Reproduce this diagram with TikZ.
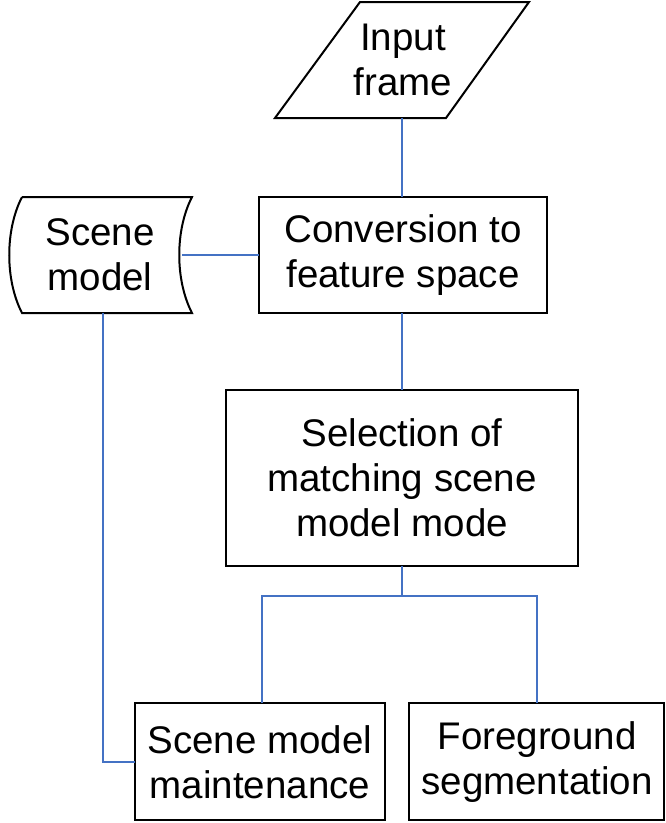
\documentclass[tikz,border=0pt]{standalone}
\usepackage{fontspec}
\setmainfont{Liberation Sans}
\begin{document}
\begin{tikzpicture}[x=1pt,y=-1pt,line width=2pt,
  txt/.style={align=center,font=\fontsize{38.5}{45}\selectfont},
  link/.style={line width=2.2pt,color={rgb,255:red,68;green,114;blue,196}}]
\useasboundingbox (0,0) rectangle (666,823);
% shapes
\draw (360,2) -- (529,2) -- (446,118) -- (275,118) -- cycle;
\draw (259,197) rectangle (547,313);
\draw (22,197) -- (192,197) .. controls (175,230) and (175,280) .. (192,313)
      -- (22,313) .. controls (5,280) and (5,230) .. (22,197);
\draw (226,390) rectangle (578,566);
\draw (135,703) rectangle (385,820);
\draw (409,703) rectangle (664,820);
% texts
\node[txt] (input) at (403,60) {Input\\frame};
\node[txt] (conv) at (403,255) {Conversion to\\feature space};
\node[txt] (scene) at (100,255) {Scene\\model};
\node[txt] (select) at (402,478) {Selection of\\matching scene\\model mode};
\node[txt] (maint) at (260,762) {Scene model\\maintenance};
\node[txt] (fg) at (537,762) {Foreground\\segmentation};
% anchors for connectors
\coordinate (inB) at (402,118);
\coordinate (convT) at (402,197);
\coordinate (convB) at (402,313);
\coordinate (convL) at (259,255);
\coordinate (sceneR) at (182,255);
\coordinate (sceneB) at (103,313);
\coordinate (selT) at (402,390);
\coordinate (selB) at (402,566);
\coordinate (split) at (402,596);
\coordinate (maintT) at (262,703);
\coordinate (maintL) at (135,762);
\coordinate (fgT) at (537,703);
% connectors
\draw[link] (inB) -- (convT);
\draw[link] (sceneR) -- (convL);
\draw[link] (convB) -- (selT);
\draw[link] (selB) -- (split) -| (maintT);
\draw[link] (split) -| (fgT);
\draw[link] (sceneB) |- (maintL);
\end{tikzpicture}
\end{document}
